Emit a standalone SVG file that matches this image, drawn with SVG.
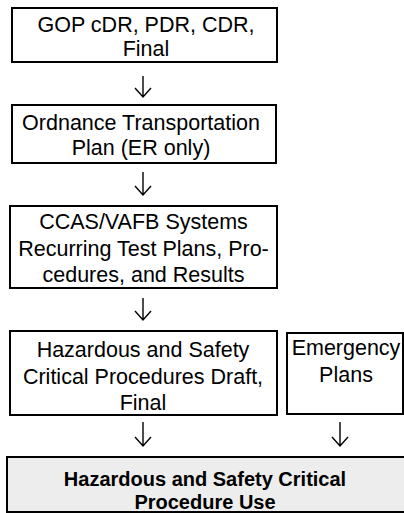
<svg xmlns="http://www.w3.org/2000/svg" width="404" height="513" viewBox="0 0 404 513">
<style>
.box{fill:#fff;stroke:#000;stroke-width:2}
.use{fill:#ededed;stroke:#000;stroke-width:2}
.t{font-family:"Liberation Sans",Arial,sans-serif;font-size:21.5px;fill:#000;text-anchor:middle}
.b{font-weight:bold;font-size:20px}
.arr{fill:none;stroke:#000;stroke-width:1.4}
</style>
<rect width="404" height="513" fill="#fff"/>
<g id="gop">
<rect class="box" x="12" y="8" width="265" height="54"/>
<text class="t" x="146" y="32">GOP cDR, PDR, CDR,</text>
<text class="t" x="146" y="56">Final</text>
</g>
<g id="ordnance">
<rect class="box" x="12" y="105" width="264" height="58"/>
<text class="t" x="141" y="130">Ordnance Transportation</text>
<text class="t" x="141" y="155">Plan (ER only)</text>
</g>
<g id="ccas">
<rect class="box" x="10" y="206" width="267" height="82"/>
<text class="t" x="143.5" y="229">CCAS/VAFB Systems</text>
<text class="t" x="143.5" y="256">Recurring Test Plans, Pro-</text>
<text class="t" x="143.5" y="282">cedures, and Results</text>
</g>
<g id="hazardous">
<rect class="box" x="10" y="331" width="267" height="84"/>
<text class="t" x="143" y="357">Hazardous and Safety</text>
<text class="t" x="143" y="384">Critical Procedures Draft,</text>
<text class="t" x="143" y="410">Final</text>
</g>
<g id="emergency">
<rect class="box" x="287" y="333" width="116" height="81"/>
<text class="t" x="346" y="355">Emergency</text>
<text class="t" x="346" y="382">Plans</text>
</g>
<g id="use">
<rect class="use" x="7" y="457" width="400" height="55"/>
<text class="t b" x="205" y="486">Hazardous and Safety Critical</text>
<text class="t b" x="205" y="509">Procedure Use</text>
</g>
<g id="connectors">
<path class="arr" d="M143 76V97M135 88L143 97L151 88"/>
<path class="arr" d="M143 172V195M135 186L143 195L151 186"/>
<path class="arr" d="M143 298V320M135 311L143 320L151 311"/>
<path class="arr" d="M143 422V446M135 437L143 446L151 437"/>
<path class="arr" d="M340 422V446M332 437L340 446L348 437"/>
</g>
</svg>
